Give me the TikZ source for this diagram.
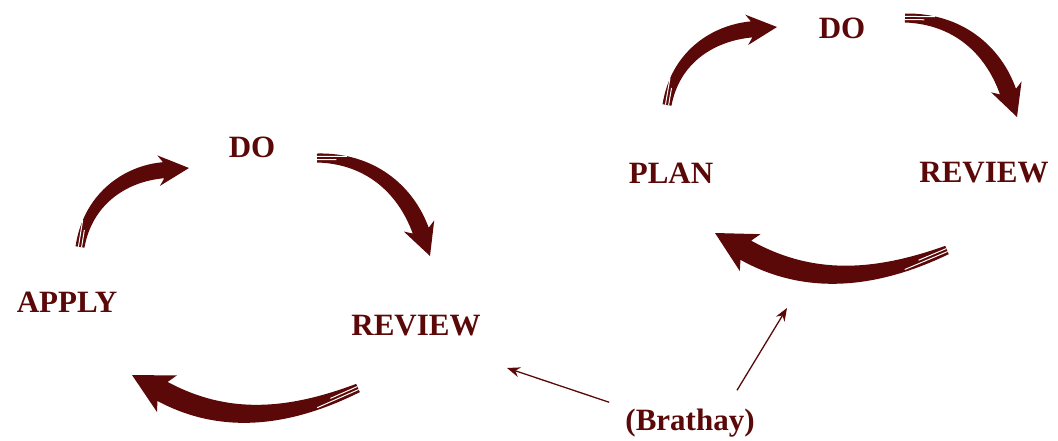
\documentclass[tikz,border=0pt]{standalone}
\usepackage{fontspec}
\setmainfont{Liberation Serif}
\usepackage{tikz}
\usetikzlibrary{calc}
\usetikzlibrary{arrows.meta}
\usepackage{xcolor}
\definecolor{brushred}{RGB}{90,8,8}
% brush stroke arrow: #1 tail, #2 tip, #3 angle at the tail, #4 angle at the head
\newcommand\brush[4]{
  \path let \p1=($(#2)-(#1)$) in \pgfextra{%
    \pgfmathsetmacro\brang{atan2(\y1,\x1)}%
    \pgfmathsetmacro\brlen{veclen(\x1,\y1)}%
    \global\let\brang\brang\global\let\brlen\brlen};
  \pgfmathsetmacro\brhl{12+0.1*\brlen}
  \pgfmathsetmacro\brhw{0.6*\brhl}
  \pgfmathsetmacro\brbw{4+0.03*\brlen}
  \pgfmathsetmacro\brhx{\brlen-\brhl*cos(#4)}
  \pgfmathsetmacro\brhy{\brhl*sin(#4)}
  \pgfmathsetmacro\brax{0.35*\brlen*cos(#3)}
  \pgfmathsetmacro\bray{0.35*\brlen*sin(#3)}
  \pgfmathsetmacro\brbx{\brhx-0.3*\brlen*cos(#4)}
  \pgfmathsetmacro\brby{\brhy+0.3*\brlen*sin(#4)}
  \begin{scope}[shift={(#1)}, rotate=\brang]
    \fill[brushred] ({-4.5*sin(#3)},{4.5*cos(#3)})
      .. controls (\brax,{\bray+0.9*\brbw}) and ({\brbx+\brbw*sin(#4)},{\brby+\brbw*cos(#4)})
      .. ({\brhx+\brbw*sin(#4)},{\brhy+\brbw*cos(#4)})
      -- ({\brhx+\brhw*sin(#4)-5*cos(#4)},{\brhy+\brhw*cos(#4)+5*sin(#4)})
      -- (\brlen,0)
      -- ({\brhx-\brhw*sin(#4)-5*cos(#4)},{\brhy-\brhw*cos(#4)+5*sin(#4)})
      -- ({\brhx-\brbw*sin(#4)},{\brhy-\brbw*cos(#4)})
      .. controls ({\brbx-\brbw*sin(#4)},{\brby-\brbw*cos(#4)}) and (\brax,{\bray-0.9*\brbw})
      .. ({4.5*sin(#3)},{-4.5*cos(#3)}) -- cycle;
    \draw[white, line width=1pt] ({-1.6*sin(#3)},{1.6*cos(#3)}) -- ++(#3:{0.2*\brlen});
    \draw[white, line width=1pt] ({1.6*sin(#3)},{-1.6*cos(#3)}) -- ++(#3:{0.13*\brlen});
  \end{scope}
}

\begin{document}
\begin{tikzpicture}[x=1pt, y=1pt,
	word/.style={text=brushred, font=\bfseries\fontsize{31}{36}\selectfont, inner sep=2pt, anchor=base},
	pointer/.style={brushred, line width=1.3pt, -{Stealth[length=13pt,width=10pt]}}]
	\useasboundingbox (0,0) rectangle (1058,-440);
	% left cycle
	\node[word] (apply) at (67,-312) {APPLY};
	\node[word] (dol) at (252,-157) {DO};
	\node[word] (reviewl) at (416,-335) {REVIEW};
	\coordinate (ltail1) at (80,-247);  \coordinate (lhead1) at (189,-168);
	\coordinate (ltail2) at (317,-158); \coordinate (lhead2) at (430,-256);
	\coordinate (ltail3) at (358,-388); \coordinate (lhead3) at (132,-375);
	\brush{ltail1}{lhead1}{45}{31}
	\brush{ltail2}{lhead2}{41}{29}
	\brush{ltail3}{lhead3}{27}{25}
	% right cycle
	\node[word] (plan) at (671,-183) {PLAN};
	\node[word] (dor) at (842,-38) {DO};
	\node[word] (reviewr) at (984,-182) {REVIEW};
	\coordinate (rtail1) at (667,-105); \coordinate (rhead1) at (777,-27);
	\coordinate (rtail2) at (905,-18);  \coordinate (rhead2) at (1017,-117);
	\coordinate (rtail3) at (947,-250); \coordinate (rhead3) at (715,-233);
	\brush{rtail1}{rhead1}{45}{30}
	\brush{rtail2}{rhead2}{41}{29}
	\brush{rtail3}{rhead3}{27}{25}
	% source
	\node[word] (brathay) at (690,-430) {(Brathay)};
	\coordinate (toleft) at (507,-368);
	\coordinate (toright) at (787,-308);
	\draw[pointer] ([xshift=-14pt,yshift=4pt]brathay.north west) -- (toleft);
	\draw[pointer] ([xshift=47pt,yshift=16pt]brathay.north) -- (toright);
\end{tikzpicture}
\end{document}
